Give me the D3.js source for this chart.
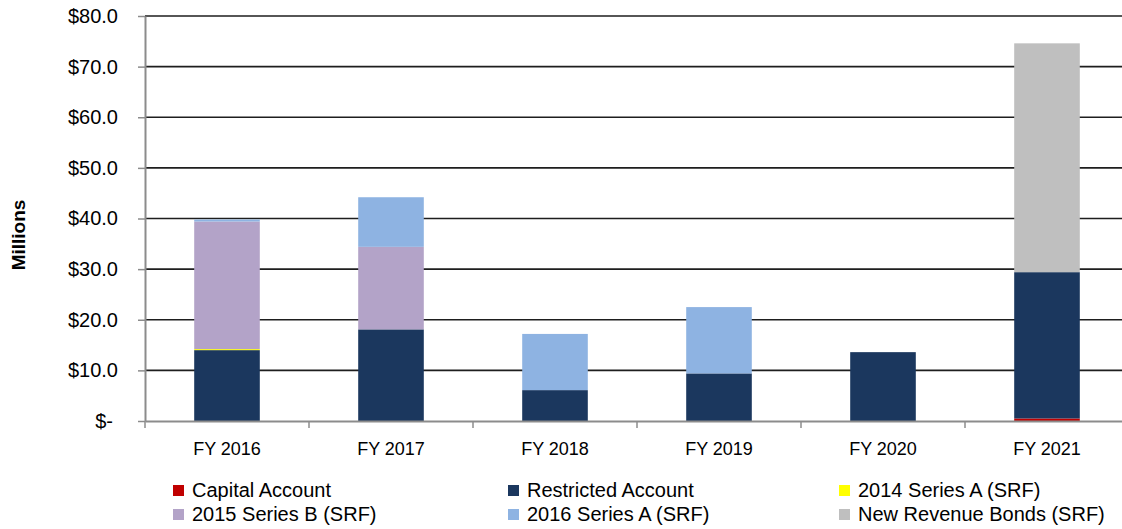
<!DOCTYPE html>
<html>
<head>
<meta charset="utf-8">
<script src="https://cdn.jsdelivr.net/npm/d3@7"></script>
<style>
  body { margin: 0; background: #fff; }
  text { font-family: "Liberation Sans", Arial, sans-serif; }
</style>
</head>
<body>
<script>
// categories and series (millions)
var years = ["FY 2016", "FY 2017", "FY 2018", "FY 2019", "FY 2020", "FY 2021"];
var capitalAccount    = [0, 0, 0, 0, 0, 0.5];
var restrictedAccount = [14.0, 18.1, 6.1, 9.4, 13.6, 28.9];
var series2014A       = [0.2, 0, 0, 0, 0, 0];
var series2015B       = [25.2, 16.3, 0, 0, 0, 0];
var series2016A       = [0.4, 9.8, 11.1, 13.1, 0, 0];
var newRevenueBonds   = [0, 0, 0, 0, 0, 45.2];
var yTicks = [0, 10, 20, 30, 40, 50, 60, 70, 80];

var seriesNames = ["Capital Account", "Restricted Account", "2014 Series A (SRF)",
                   "2015 Series B (SRF)", "2016 Series A (SRF)", "New Revenue Bonds (SRF)"];
var seriesValues = [capitalAccount, restrictedAccount, series2014A,
                    series2015B, series2016A, newRevenueBonds];
var colors = ["#c00000", "#1b375e", "#ffff00", "#b3a3c8", "#8eb3e2", "#bfbfbf"];

var margin = {top: 16, right: 0, bottom: 108, left: 145},
    width = 984,
    height = 405;

// build table for d3.stack
var table = years.map(function(y, i) {
  var row = {year: y};
  seriesNames.forEach(function(s, j) { row[s] = seriesValues[j][i]; });
  return row;
});
var stacked = d3.stack().keys(seriesNames)(table);

var x = d3.scaleBand().domain(years).range([0, width]).paddingInner(0.6).paddingOuter(0.3);
var y = d3.scaleLinear().domain([0, 80]).range([height, 0]);
var color = d3.scaleOrdinal().domain(seriesNames).range(colors);

var svg = d3.select("body").append("svg")
    .attr("width", 1122)
    .attr("height", 529);

var g = svg.append("g")
    .attr("transform", "translate(" + margin.left + "," + margin.top + ")");

// gridlines
g.selectAll(".grid")
    .data(yTicks.filter(function(d) { return d > 0; }))
  .enter().append("line")
    .attr("x1", 0)
    .attr("x2", width)
    .attr("y1", function(d) { return y(d); })
    .attr("y2", function(d) { return y(d); })
    .attr("stroke", "#1e1e1e")
    .attr("stroke-width", 1.6);

// bars
g.selectAll(".layer")
    .data(stacked)
  .enter().append("g")
    .attr("fill", function(d) { return color(d.key); })
  .selectAll("rect")
    .data(function(d) { return d; })
  .enter().append("rect")
    .attr("x", function(d) { return x(d.data.year); })
    .attr("width", x.bandwidth())
    .attr("y", function(d) { return y(d[1]); })
    .attr("height", function(d) { return y(d[0]) - y(d[1]); });

// y axis
var yAxis = g.append("g")
    .call(d3.axisLeft(y).tickValues(yTicks).tickSize(7).tickSizeOuter(0).tickPadding(20)
      .tickFormat(function(d) { return d === 0 ? "$-" : "$" + d.toFixed(1); }));
yAxis.select(".domain").attr("stroke", "#8c8c8c").attr("stroke-width", 2);
yAxis.selectAll(".tick line").attr("stroke", "#8c8c8c").attr("stroke-width", 1.5);
yAxis.selectAll(".tick text")
    .attr("font-size", 20)
    .attr("fill", "#000")
    .attr("font-family", "Liberation Sans, Arial, sans-serif")
    .attr("x", function(d) { return d === 0 ? -32 : -27; });

// x axis
var xAxis = g.append("g")
    .attr("transform", "translate(0," + height + ")")
    .call(d3.axisBottom(x).tickSize(0).tickPadding(21));
xAxis.select(".domain").attr("stroke", "#8c8c8c").attr("stroke-width", 2);
xAxis.selectAll(".tick text")
    .attr("font-size", 18)
    .attr("fill", "#000")
    .attr("font-family", "Liberation Sans, Arial, sans-serif");

// category boundary ticks
xAxis.selectAll(".bound")
    .data(d3.range(years.length + 1))
  .enter().append("line")
    .attr("x1", function(i) { return i * x.step(); })
    .attr("x2", function(i) { return i * x.step(); })
    .attr("y1", 0)
    .attr("y2", 7)
    .attr("stroke", "#8c8c8c")
    .attr("stroke-width", 1.5);

// y title
svg.append("text")
    .attr("transform", "translate(25,235) rotate(-90)")
    .attr("text-anchor", "middle")
    .attr("font-size", 19)
    .attr("font-weight", "bold")
    .text("Millions");

// legend
var legendX = [173, 508, 839],
    legendY = [485, 509];
var legend = svg.selectAll(".legend")
    .data(seriesNames)
  .enter().append("g")
    .attr("transform", function(d, i) {
      return "translate(" + legendX[i % 3] + "," + legendY[Math.floor(i / 3)] + ")";
    });

legend.append("rect")
    .attr("width", 11)
    .attr("height", 11)
    .attr("fill", function(d) { return color(d); });

legend.append("text")
    .attr("x", 19)
    .attr("y", 12)
    .attr("font-size", 20)
    .attr("fill", "#000")
    .text(function(d) { return d; });
</script>
</body>
</html>
